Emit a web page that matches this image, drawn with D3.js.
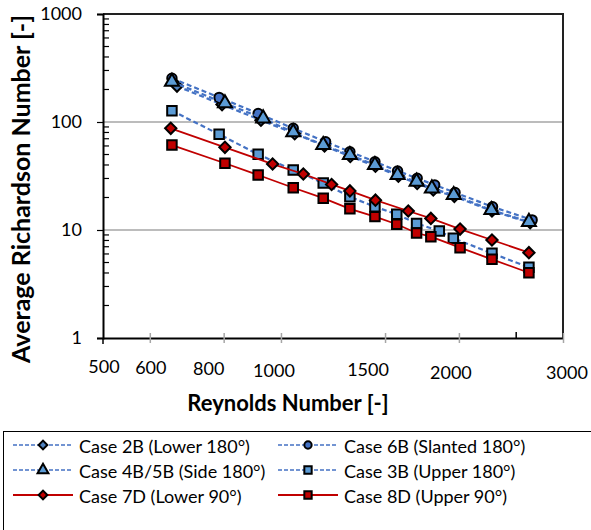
<!DOCTYPE html>
<html>
<head>
<meta charset="utf-8">
<script src="https://cdn.jsdelivr.net/npm/d3@7"></script>
<style>
  body { margin: 0; background: #fff; }
  svg { font-family: Lato, "Open Sans", sans-serif; }
</style>
</head>
<body>
<svg id="chart" width="591" height="530"></svg>
<script>
// data (Reynolds number, average Richardson number)
const re2B = [667, 795, 925, 1055, 1185, 1310, 1445, 1580, 1700, 1810, 1965, 2275, 2640];
const ri2B = [215, 145, 104, 78, 60, 48, 39, 31.5, 27, 23.5, 20.5, 15, 11.7];

const re6B = [654, 786, 915, 1049, 1190, 1308, 1442, 1575, 1700, 1820, 1970, 2280, 2660];
const ri6B = [254, 169, 120, 87.4, 65.7, 53.1, 42.9, 35.2, 30.1, 26.1, 22.2, 16.4, 12.4];

const re4B = [654, 804, 933, 1049, 1179, 1308, 1442, 1575, 1696, 1800, 1960, 2270, 2627];
const ri4B = [236, 149, 108, 80.3, 61.2, 49.5, 40.0, 32.3, 28.0, 24.3, 21.1, 15.3, 11.9];

const re3B = [654, 786, 915, 1049, 1179, 1308, 1442, 1570, 1696, 1853, 1957, 2275, 2627];
const ri3B = [127, 76.9, 50.2, 35.9, 27.2, 20.3, 16.4, 14.0, 11.5, 9.79, 8.38, 6.08, 4.51];

const re7D = [651, 804, 968, 1091, 1218, 1308, 1445, 1642, 1793, 2009, 2275, 2627];
const ri7D = [87.4, 58.3, 40.8, 33.0, 26.4, 23.0, 18.9, 15.0, 12.8, 10.2, 8.08, 6.17];

const re8D = [654, 804, 915, 1049, 1179, 1308, 1442, 1570, 1696, 1793, 2009, 2275, 2627];
const ri8D = [61.2, 41.5, 32.3, 24.6, 19.7, 15.7, 13.3, 11.3, 9.38, 8.67, 6.86, 5.35, 4.02];

const seriesNames = ['Case 2B (Lower 180°)', 'Case 6B (Slanted 180°)', 'Case 4B/5B (Side 180°)',
                     'Case 3B (Upper 180°)', 'Case 7D (Lower 90°)', 'Case 8D (Upper 90°)'];

const yTickValues = [1, 10, 100, 1000];
const xTickValues = [600, 800, 1000, 1500, 2000, 3000];
const xLabelValues = [500, 600, 800, 1000, 1500, 2000, 3000];

// styles for each series (same order as names)
const blueLine = '#4472c4', redLine = '#c00000';
const styles = [
  { re: re2B, ri: ri2B, line: blueLine, dash: '5,3', shape: 'diamond', fill: '#4f81bd' },
  { re: re6B, ri: ri6B, line: blueLine, dash: '5,3', shape: 'circle', fill: '#4472c4' },
  { re: re4B, ri: ri4B, line: blueLine, dash: '5,3', shape: 'triangle', fill: '#5b9bd5' },
  { re: re3B, ri: ri3B, line: blueLine, dash: '5,3', shape: 'square', fill: '#5b9bd5' },
  { re: re7D, ri: ri7D, line: redLine, dash: null, shape: 'diamond', fill: '#c00000' },
  { re: re8D, ri: ri8D, line: redLine, dash: null, shape: 'square', fill: '#c00000' }
];

const svg = d3.select('#chart');
const pLeft = 103, pRight = 563, pTop = 14, pBottom = 338;

const x = d3.scaleLog().domain([500, 3000]).range([pLeft, pRight]);
const y = d3.scaleLog().domain([1, 1000]).range([pBottom, pTop]);

// gridlines
svg.append('g').selectAll('line')
  .data([10, 100])
  .join('line')
  .attr('x1', pLeft).attr('x2', pRight)
  .attr('y1', d => y(d)).attr('y2', d => y(d))
  .attr('stroke', '#a6a6a6').attr('stroke-width', 1.5);

// top and right border
svg.append('path')
  .attr('d', `M${pLeft},${pTop}H${pRight}V${pBottom}`)
  .attr('fill', 'none').attr('stroke', '#222').attr('stroke-width', 2);

// y axis: major ticks outside, minor ticks inside
const minor = [];
for (let dec = 1; dec < 1000; dec *= 10) for (let k = 2; k <= 9; k++) minor.push(dec * k);

const yAxis = svg.append('g')
  .attr('transform', `translate(${pLeft},0)`)
  .call(d3.axisLeft(y).tickValues(yTickValues).tickFormat(d3.format('d')).tickSize(6).tickPadding(15));
yAxis.select('.domain').attr('stroke', '#000').attr('stroke-width', 2);
yAxis.selectAll('.tick line').attr('stroke', '#000').attr('stroke-width', 1.2);
yAxis.selectAll('.tick text').attr('font-size', 18).attr('fill', '#000').attr('font-family', 'Lato');

svg.append('g')
  .attr('transform', `translate(${pLeft},0)`)
  .selectAll('line').data(minor).join('line')
  .attr('x1', 0).attr('x2', 6)
  .attr('y1', d => y(d)).attr('y2', d => y(d))
  .attr('stroke', '#000').attr('stroke-width', 1.2);

// x axis: grey cross ticks
const xAxis = svg.append('g')
  .attr('transform', `translate(0,${pBottom})`)
  .call(d3.axisBottom(x).tickValues(xTickValues).tickFormat('').tickSizeInner(5).tickSizeOuter(0));
xAxis.select('.domain').attr('stroke', '#000').attr('stroke-width', 2);
xAxis.selectAll('.tick line').attr('y1', -5).attr('y2', 5).attr('stroke', '#a6a6a6').attr('stroke-width', 1.5);

svg.append('line')
  .attr('x1', x(2500)).attr('x2', x(2500)).attr('y1', pBottom - 6).attr('y2', pBottom)
  .attr('stroke', '#000').attr('stroke-width', 1.5);
svg.append('line')
  .attr('x1', x(500)).attr('x2', x(500)).attr('y1', pBottom).attr('y2', pBottom + 6)
  .attr('stroke', '#000').attr('stroke-width', 1.5);

// x labels sit a bit off their ticks, as in the original
const xLabelDx = [1, 1, -15, -7, -17, -8, 4];
const xLabelY = [373, 374, 375, 377, 376, 379, 379];
svg.append('g').selectAll('text')
  .data(xLabelValues)
  .join('text')
  .attr('x', (d, i) => x(d) + xLabelDx[i])
  .attr('y', (d, i) => xLabelY[i])
  .attr('text-anchor', 'middle')
  .attr('font-size', 18)
  .text(d => d);

// axis titles
svg.append('text')
  .attr('x', 288).attr('y', 411)
  .attr('text-anchor', 'middle')
  .attr('font-size', 22).attr('font-weight', 'bold')
  .text('Reynolds Number [-]');

svg.append('text')
  .attr('transform', 'translate(30,189) rotate(-90)')
  .attr('text-anchor', 'middle')
  .attr('font-size', 25).attr('font-weight', 'bold')
  .text('Average Richardson Number [-]');

// marker helper
function marker(shape, scale) {
  const s = scale || 1;
  if (shape === 'circle') return d3.symbol(d3.symbolCircle, 70 * s)();
  if (shape === 'triangle') return d3.symbol(d3.symbolTriangle, 85 * s)();
  return d3.symbol(d3.symbolSquare, (shape === 'diamond' ? 64 : 90) * s)();
}
const rot = shape => shape === 'diamond' ? ' rotate(45)' : '';

const line = d3.line().x(d => x(d[0])).y(d => y(d[1]));

styles.forEach((s, i) => {
  const pts = s.re.map((r, k) => [r, s.ri[k]]);
  const g = svg.append('g');
  g.append('path')
    .datum(pts)
    .attr('d', line)
    .attr('fill', 'none')
    .attr('stroke', s.line)
    .attr('stroke-width', s.dash ? 2.2 : 1.8)
    .attr('stroke-dasharray', s.dash);
  g.selectAll('path.m')
    .data(pts)
    .join('path')
    .attr('class', 'm')
    .attr('d', marker(s.shape))
    .attr('transform', d => `translate(${x(d[0])},${y(d[1])})${rot(s.shape)}`)
    .attr('fill', s.fill)
    .attr('stroke', '#000')
    .attr('stroke-width', 2);
});

// legend
svg.append('rect')
  .attr('x', 3.5).attr('y', 431.5).attr('width', 600).attr('height', 120)
  .attr('fill', '#fff').attr('stroke', '#000').attr('stroke-width', 1);

const legCols = [13, 278], legRows = [445, 470, 495];
const leg = svg.append('g').selectAll('g')
  .data(styles)
  .join('g')
  .attr('transform', (d, i) => `translate(${legCols[i % 2]},${legRows[Math.floor(i / 2)]})`);
leg.append('line')
  .attr('x1', 0).attr('x2', 60)
  .attr('stroke', d => d.line)
  .attr('stroke-width', d => d.dash ? 1.5 : 2)
  .attr('stroke-dasharray', d => d.dash ? '4,2' : null);
leg.append('path')
  .attr('d', d => marker(d.shape, 0.6))
  .attr('transform', d => `translate(30,0)${rot(d.shape)}`)
  .attr('fill', d => d.fill)
  .attr('stroke', '#000').attr('stroke-width', 2);
leg.append('text')
  .attr('x', 66).attr('y', 8)
  .attr('font-size', 18)
  .text((d, i) => seriesNames[i]);
</script>
</body>
</html>
